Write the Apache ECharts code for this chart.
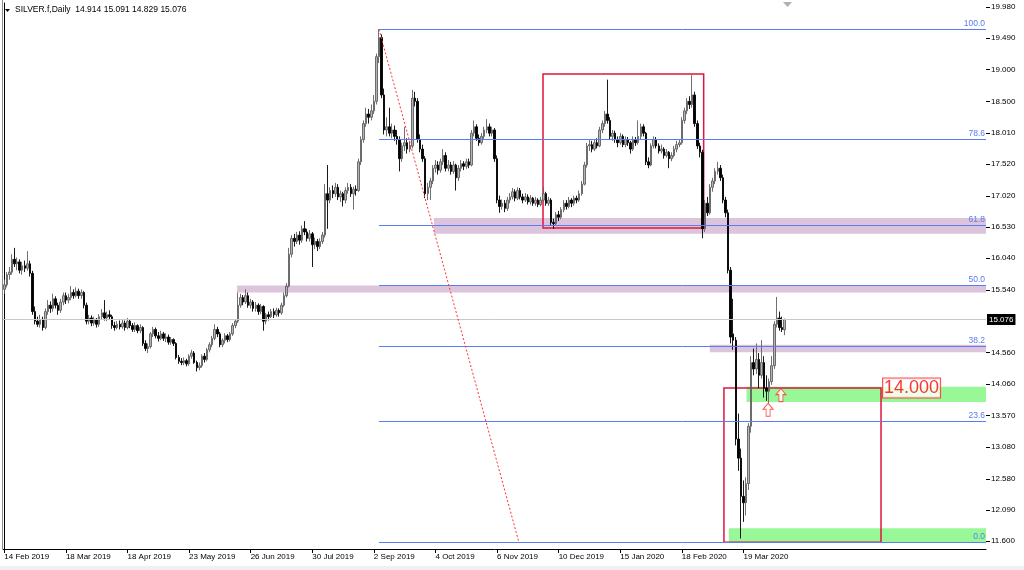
<!DOCTYPE html>
<html><head><meta charset="utf-8">
<script src="https://cdn.jsdelivr.net/npm/echarts@6/dist/echarts.min.js"></script>
<style>html,body{margin:0;padding:0;background:#fff}#c{width:1024px;height:570px}</style>
</head><body><div id="c"></div>
<script>
const opens = [
15.55,15.62,15.78,15.82,16.02,15.95,15.98,15.85,15.92,15.88,
15.95,15.80,15.20,15.05,15.00,15.08,14.95,15.20,15.30,15.25,
15.40,15.30,15.22,15.35,15.45,15.38,15.42,15.50,15.45,15.52,
15.45,15.50,15.30,15.05,15.10,15.02,15.08,15.00,15.12,15.18,
15.10,15.15,15.12,14.98,14.95,15.00,14.96,15.02,14.95,15.05,
14.98,14.92,14.98,14.90,14.95,14.70,14.62,14.65,14.85,14.92,
14.82,14.78,14.85,14.78,14.80,14.72,14.76,14.70,14.48,14.42,
14.40,14.43,14.38,14.50,14.55,14.40,14.32,14.35,14.50,14.45,
14.60,14.68,14.78,14.92,14.85,14.68,14.75,14.82,14.76,14.85,
14.98,15.05,15.30,15.42,15.35,15.45,15.30,15.35,15.25,15.30,
15.20,15.28,15.05,15.15,15.12,15.20,15.15,15.22,15.18,15.30,
15.45,15.60,16.10,16.35,16.30,16.40,16.32,16.50,16.45,16.35,
16.42,16.25,16.30,16.22,16.30,16.40,17.05,16.95,17.10,17.05,
17.15,17.00,17.05,16.95,17.10,17.15,17.05,17.12,17.10,17.55,
17.90,18.15,18.30,18.25,18.35,18.50,19.20,19.50,18.60,18.05,
18.10,18.00,18.05,17.95,17.90,17.60,17.80,17.85,17.75,17.80,
18.55,18.50,17.90,17.75,17.60,17.05,17.15,17.25,17.45,17.50,
17.42,17.55,17.65,17.45,17.50,17.40,17.50,17.30,17.45,17.52,
17.48,17.55,17.50,18.00,18.10,17.92,17.85,17.95,18.05,18.10,
18.00,18.05,17.60,16.95,16.85,16.90,16.82,16.95,17.00,17.08,
16.98,17.10,17.00,16.95,17.00,16.92,16.98,16.90,16.95,16.88,
16.95,17.05,16.90,16.95,16.60,16.58,16.72,16.68,16.80,16.90,
16.85,16.95,16.90,16.98,16.95,17.05,17.20,17.50,17.80,17.82,
17.75,17.85,17.80,18.05,18.15,18.30,18.20,17.95,18.00,17.90,
17.85,17.95,17.82,17.90,17.85,17.75,17.90,17.85,17.95,18.10,
18.00,17.55,17.50,17.80,17.90,17.80,17.72,17.75,17.65,17.70,
17.60,17.65,17.75,17.82,17.85,18.20,18.35,18.50,18.45,18.60,
18.15,17.80,17.70,16.50,16.90,16.75,17.15,17.25,17.40,17.45,
17.30,16.95,16.75,15.85,14.85,14.75,13.20,12.90,12.30,12.20,
12.50,13.40,14.40,14.30,14.45,14.20,14.40,14.00,13.95,14.10,
14.35,15.00,15.10,14.95,14.914];
const closes = [
15.62,15.78,15.82,16.02,15.95,15.98,15.85,15.92,15.88,15.95,
15.80,15.20,15.05,15.00,15.08,14.95,15.20,15.30,15.25,15.40,
15.30,15.22,15.35,15.45,15.38,15.42,15.50,15.45,15.52,15.45,
15.50,15.30,15.05,15.10,15.02,15.08,15.00,15.12,15.18,15.10,
15.15,15.12,14.98,14.95,15.00,14.96,15.02,14.95,15.05,14.98,
14.92,14.98,14.90,14.95,14.70,14.62,14.65,14.85,14.92,14.82,
14.78,14.85,14.78,14.80,14.72,14.76,14.70,14.48,14.42,14.40,
14.43,14.38,14.50,14.55,14.40,14.32,14.35,14.50,14.45,14.60,
14.68,14.78,14.92,14.85,14.68,14.75,14.82,14.76,14.85,14.98,
15.05,15.30,15.42,15.35,15.45,15.30,15.35,15.25,15.30,15.20,
15.28,15.05,15.15,15.12,15.20,15.15,15.22,15.18,15.30,15.45,
15.60,16.10,16.35,16.30,16.40,16.32,16.50,16.45,16.35,16.42,
16.25,16.30,16.22,16.30,16.40,17.05,16.95,17.10,17.05,17.15,
17.00,17.05,16.95,17.10,17.15,17.05,17.12,17.10,17.55,17.90,
18.15,18.30,18.25,18.35,18.50,19.20,19.50,18.60,18.05,18.10,
18.00,18.05,17.95,17.90,17.60,17.80,17.85,17.75,17.80,18.55,
18.50,17.90,17.75,17.60,17.05,17.15,17.25,17.45,17.50,17.42,
17.55,17.65,17.45,17.50,17.40,17.50,17.30,17.45,17.52,17.48,
17.55,17.50,18.00,18.10,17.92,17.85,17.95,18.05,18.10,18.00,
18.05,17.60,16.95,16.85,16.90,16.82,16.95,17.00,17.08,16.98,
17.10,17.00,16.95,17.00,16.92,16.98,16.90,16.95,16.88,16.95,
17.05,16.90,16.95,16.60,16.58,16.72,16.68,16.80,16.90,16.85,
16.95,16.90,16.98,16.95,17.05,17.20,17.50,17.80,17.82,17.75,
17.85,17.80,18.05,18.15,18.30,18.20,17.95,18.00,17.90,17.85,
17.95,17.82,17.90,17.85,17.75,17.90,17.85,17.95,18.10,18.00,
17.55,17.50,17.80,17.90,17.80,17.72,17.75,17.65,17.70,17.60,
17.65,17.75,17.82,17.85,18.20,18.35,18.50,18.45,18.60,18.15,
17.80,17.70,16.50,16.90,16.75,17.15,17.25,17.40,17.45,17.30,
16.95,16.75,15.85,14.80,14.75,13.20,12.90,12.30,12.20,12.50,
13.40,14.40,14.30,14.45,14.20,14.40,14.00,13.95,14.10,14.35,
15.00,15.10,14.95,14.92,15.076];
const highs = [
15.70,15.82,15.90,16.10,16.20,16.05,16.02,15.98,16.00,16.15,
16.00,15.84,15.28,15.12,15.15,15.12,15.25,15.38,15.36,15.48,
15.44,15.34,15.40,15.50,15.50,15.48,15.60,15.55,15.58,15.56,
15.55,15.52,15.34,15.15,15.14,15.12,15.10,15.16,15.24,15.38,
15.20,15.22,15.15,15.04,15.05,15.06,15.07,15.06,15.10,15.08,
15.02,15.03,15.00,15.00,14.97,14.75,14.70,14.88,14.96,14.95,
14.88,14.90,14.88,14.86,14.84,14.80,14.78,14.72,14.52,14.47,
14.48,14.46,14.53,14.60,14.58,14.43,14.40,14.53,14.55,14.63,
14.72,14.82,15.00,14.96,14.88,14.78,14.86,14.85,14.88,15.02,
15.08,15.50,15.48,15.46,15.55,15.50,15.40,15.38,15.35,15.33,
15.32,15.30,15.18,15.20,15.24,15.25,15.26,15.25,15.34,15.50,
15.65,16.20,16.40,16.42,16.45,16.46,16.55,16.62,16.50,16.48,
16.45,16.36,16.34,16.35,16.45,17.20,17.50,17.15,17.18,17.22,
17.20,17.10,17.08,17.15,17.22,17.20,17.16,17.18,17.60,17.95,
18.20,18.40,18.38,18.45,18.60,19.25,19.63,19.55,18.70,18.25,
18.40,18.15,18.12,18.05,17.95,17.85,18.10,17.92,17.88,18.68,
18.65,18.55,17.98,17.82,17.64,17.22,17.30,17.50,17.58,17.56,
17.60,17.75,17.70,17.58,17.55,17.56,17.52,17.50,17.58,17.56,
17.60,17.60,18.05,18.20,18.14,17.98,18.00,18.10,18.22,18.15,
18.10,18.08,17.65,17.02,16.96,16.95,17.00,17.06,17.14,17.12,
17.15,17.14,17.05,17.06,17.04,17.03,17.00,17.00,16.98,17.00,
17.15,17.08,17.00,16.98,16.66,16.76,16.78,16.84,16.95,16.95,
17.00,16.98,17.02,17.02,17.10,17.25,17.55,17.85,17.90,17.88,
17.90,17.92,18.10,18.20,18.35,18.84,18.25,18.05,18.04,17.95,
18.00,17.98,17.95,17.94,17.88,17.95,17.94,18.20,18.15,18.14,
18.02,17.62,17.84,17.95,17.94,17.84,17.82,17.78,17.75,17.72,
17.70,17.80,17.88,17.90,18.25,18.40,18.55,18.58,18.91,18.65,
18.20,17.85,17.74,16.95,17.00,17.20,17.30,17.45,17.55,17.50,
17.35,17.00,16.80,15.90,15.40,14.80,13.60,13.05,12.55,12.60,
13.45,14.50,14.62,14.70,14.55,14.75,14.50,14.20,14.15,14.50,
15.05,15.43,15.20,15.12,15.091];
const lows = [
15.48,15.58,15.70,15.78,15.90,15.85,15.80,15.78,15.82,15.84,
15.75,15.15,15.00,14.96,14.95,14.90,14.92,15.15,15.18,15.20,
15.25,15.15,15.18,15.30,15.32,15.33,15.38,15.40,15.42,15.40,
15.40,15.25,15.00,15.00,14.97,14.98,14.95,14.96,15.08,15.06,
15.05,15.08,14.93,14.90,14.92,14.92,14.93,14.90,14.92,14.94,
14.88,14.88,14.86,14.86,14.66,14.58,14.55,14.62,14.80,14.78,
14.73,14.75,14.74,14.72,14.68,14.68,14.66,14.45,14.38,14.36,
14.36,14.34,14.35,14.46,14.38,14.26,14.28,14.32,14.40,14.42,
14.56,14.64,14.75,14.80,14.64,14.64,14.70,14.72,14.73,14.82,
14.94,15.02,15.26,15.30,15.32,15.26,15.25,15.20,15.20,15.15,
15.16,14.90,15.00,15.06,15.10,15.10,15.12,15.12,15.15,15.27,
15.42,15.58,16.05,16.22,16.26,16.25,16.28,16.40,16.30,16.30,
15.90,16.18,16.15,16.18,16.26,16.36,16.50,16.90,16.98,17.00,
16.95,16.92,16.85,16.90,17.05,17.00,16.80,17.02,17.08,17.50,
17.85,18.10,18.15,18.20,18.30,18.45,19.10,18.55,17.98,17.95,
17.95,17.92,17.88,17.82,17.40,17.55,17.72,17.68,17.70,17.76,
18.42,17.85,17.70,17.55,16.98,16.95,16.95,17.20,17.38,17.35,
17.38,17.50,17.40,17.40,17.35,17.36,17.10,17.25,17.40,17.42,
17.44,17.45,17.48,17.95,17.88,17.80,17.82,17.90,18.00,17.95,
17.95,17.55,16.90,16.75,16.80,16.76,16.78,16.90,16.96,16.93,
16.95,16.96,16.90,16.92,16.88,16.88,16.86,16.86,16.84,16.85,
16.92,16.86,16.86,16.56,16.50,16.55,16.62,16.65,16.76,16.80,
16.82,16.84,16.86,16.90,16.92,17.02,17.18,17.46,17.72,17.70,
17.72,17.76,17.78,18.00,18.10,18.15,17.90,17.88,17.85,17.78,
17.82,17.78,17.78,17.80,17.68,17.72,17.80,17.82,17.90,17.95,
17.50,17.45,17.48,17.76,17.76,17.68,17.68,17.60,17.62,17.45,
17.56,17.62,17.70,17.78,17.82,18.15,18.30,18.38,18.40,18.10,
17.75,17.62,16.35,16.45,16.70,16.72,17.08,17.20,17.35,17.25,
16.90,16.68,15.80,14.70,14.60,13.10,12.70,11.64,11.90,12.00,
12.40,13.30,14.20,14.22,14.00,14.15,13.85,13.80,13.76,14.05,
14.30,14.95,14.90,14.88,14.829];

const symbolName = 'SILVER.f,Daily';
const tickLabels = ['14 Feb 2019','18 Mar 2019','18 Apr 2019','23 May 2019','26 Jun 2019','30 Jul 2019','2 Sep 2019','4 Oct 2019','6 Nov 2019','10 Dec 2019','15 Jan 2020','18 Feb 2020','19 Mar 2020'];
const barsPerTick = 24;
const totalSlots = 383;
const priceTicks = [19.98,19.49,19.00,18.50,18.01,17.52,17.02,16.53,16.04,15.54,14.56,14.06,13.57,13.08,12.58,12.09,11.60];
const priceMin = 11.474, priceMax = 20.043;

const fibHigh = 19.63, fibLow = 11.58, fibHighBar = 146, fibTrendEndBar = 200.5;
const fibRatios = [0, 23.6, 38.2, 50, 61.8, 78.6, 100];
const lastPrice = closes[closes.length - 1];

// zones: [startBar, topPrice, bottomPrice] (extend to right edge)
const purpleZones = [[167.4, 16.67, 16.42], [90.7, 15.61, 15.50], [274.9, 14.68, 14.56]];
const greenZones = [[289.2, 14.02, 13.78], [282.3, 11.80, 11.58]];
// red boxes: [startBar, endBar, topPrice, bottomPrice]
const redBoxes = [[209.9, 272.5, 18.93, 16.51], [280.4, 341.6, 14.00, 11.58]];
const levelLabel = {bar: 353.5, price: 14.0, text: '14.000'};
const arrowMarks = [[302.6, 13.89], [297.6, 13.66]];

const FONT = '"Liberation Sans", Arial, sans-serif';
const fibColor = '#5a7cf0';
const rightEdge = totalSlots - 0.5;

const chart = echarts.init(document.getElementById('c'), null, {renderer: 'canvas'});
const slots = Array.from({length: totalSlots}, (_, i) => String(i));
const candleData = opens.map((o, i) => [o, closes[i], lows[i], highs[i]]);
const showTick = (idx) => idx % barsPerTick === 0 && idx / barsPerTick < tickLabels.length;

const last = opens.length - 1;
const titleText = symbolName + '  ' + opens[last].toFixed(3) + ' ' + highs[last].toFixed(3) + ' ' + lows[last].toFixed(3) + ' ' + closes[last].toFixed(3);

const baseGraphics = [
  {type: 'rect', shape: {x: 0, y: 566, width: 1024, height: 4}, style: {fill: '#f0f0f0'}, silent: true},
  {type: 'line', shape: {x1: 2.5, y1: 0, x2: 2.5, y2: 549}, style: {stroke: '#8c8c8c', lineWidth: 1}, silent: true},
  {type: 'polygon', shape: {points: [[5, 9], [10, 9], [7.5, 12]]}, style: {fill: '#000'}, silent: true},
  {type: 'polygon', shape: {points: [[783, 2], [792, 2], [787.5, 7]]}, style: {fill: '#b0b0b0'}, silent: true},
  {type: 'text', left: 15, top: 5, style: {text: titleText, fill: '#000', fontSize: 8.5, fontFamily: FONT}, silent: true}
];

function buildOption(snap) {
  return {
    animation: false,
    backgroundColor: '#ffffff',
    grid: {left: 3, right: 38, top: 3, bottom: 21},
    xAxis: [{
      type: 'category', data: slots, boundaryGap: true,
      axisLine: {show: true, lineStyle: {color: '#000', width: 1}},
      axisTick: {show: true, alignWithLabel: true, interval: showTick, length: 4, lineStyle: {color: '#000'}},
      axisLabel: {show: true, interval: showTick, align: 'left', margin: 4, fontSize: 8, fontFamily: FONT, color: '#000',
        formatter: (v, idx) => tickLabels[idx / barsPerTick] || ''},
      splitLine: {show: false}
    }, {
      type: 'value', min: -0.5, max: rightEdge, show: false
    }],
    yAxis: {
      type: 'value', position: 'right', min: priceMin, max: priceMax, scale: true,
      axisLine: {show: true, lineStyle: {color: '#000', width: 1}},
      axisTick: {show: false},
      axisLabel: {show: true, customValues: priceTicks, margin: 5, fontSize: 8, fontFamily: FONT, color: '#000',
        formatter: (v) => v.toFixed(3)},
      splitLine: {show: false}
    },
    series: [
      {
        type: 'line', xAxisIndex: 1, data: [[fibHighBar, fibHigh]], showSymbol: false, symbol: 'none', z: 1,
        lineStyle: {opacity: 0}, silent: true,
        markArea: {
          silent: true,
          data: [
            ...purpleZones.map(z => [{coord: [z[0], z[1]], itemStyle: {color: '#dcc4dc'}}, {coord: [rightEdge, z[2]]}]),
            ...greenZones.map(z => [{coord: [z[0], z[1]], itemStyle: {color: '#98f898'}}, {coord: [rightEdge, z[2]]}])
          ]
        },
        markLine: {
          silent: true, symbol: 'none', animation: false,
          data: [[
            {coord: [-0.5, snap(lastPrice)], lineStyle: {color: '#c8c8c8', width: 1, type: 'solid'},
             label: {show: true, position: 'end', distance: 1, formatter: lastPrice.toFixed(3), backgroundColor: '#000', color: '#fff',
               fontSize: 8, fontFamily: FONT, padding: [2, 2, 1, 2]}},
            {coord: [rightEdge, snap(lastPrice)]}
          ]]
        }
      },
      {
        type: 'candlestick', xAxisIndex: 0, yAxisIndex: 0, data: candleData, barWidth: 2, z: 2,
        itemStyle: {color: '#b4b4b4', color0: '#000000', borderColor: '#606060', borderColor0: '#000000', borderWidth: 0.9}
      },
      {
        type: 'line', xAxisIndex: 1, data: [[fibHighBar, fibHigh]], showSymbol: false, symbol: 'none', z: 3,
        lineStyle: {opacity: 0}, silent: true,
        markLine: {
          silent: true, symbol: 'none', animation: false,
          data: [
            ...fibRatios.map(r => {
              const p = snap(fibLow + (fibHigh - fibLow) * r / 100);
              return [
                {coord: [fibHighBar, p], lineStyle: {color: fibColor, width: 1, type: 'solid'},
                 label: {show: true, position: 'insideEndTop', distance: 1, formatter: r.toFixed(1), color: fibColor, fontSize: 8.5, fontFamily: FONT}},
                {coord: [rightEdge, p]}
              ];
            }),
            [
              {coord: [fibHighBar, fibHigh], lineStyle: {color: '#ff3030', width: 1, type: [2, 2]}, label: {show: false}},
              {coord: [fibTrendEndBar, fibLow]}
            ]
          ]
        },
        markArea: {
          silent: true,
          data: redBoxes.map(b => [{coord: [b[0], b[2]], itemStyle: {color: 'rgba(0,0,0,0)', borderColor: '#e0143c', borderWidth: 1.5}}, {coord: [b[1], b[3]]}])
        }
      },
      {
        type: 'scatter', xAxisIndex: 1, z: 5, silent: true,
        data: arrowMarks,
        symbol: 'path://M5,0 L10,6 L7,6 L7,13 L3,13 L3,6 L0,6 Z',
        symbolSize: [10, 13],
        itemStyle: {color: '#ffffff', borderColor: '#ff3030', borderWidth: 1}
      },
      {
        type: 'scatter', xAxisIndex: 1, z: 6, silent: true,
        data: [[levelLabel.bar, levelLabel.price]],
        symbolSize: 1, itemStyle: {color: 'rgba(0,0,0,0)'},
        label: {show: true, position: 'inside', formatter: levelLabel.text, color: '#ff0000', fontSize: 18, fontFamily: FONT,
          backgroundColor: '#ffffff', borderColor: '#ff2020', borderWidth: 1, padding: [1, 1, 0, 1]}
      }
    ],
    graphic: baseGraphics
  };
}

chart.setOption(buildOption(v => v));

// snap horizontal level lines to the pixel grid of the library's y scale (crisp 1px lines like the terminal)
const snapLevel = (v) => {
  const y = chart.convertToPixel({yAxisIndex: 0}, v);
  return chart.convertFromPixel({yAxisIndex: 0}, Math.round(y - 0.5) + 0.5);
};
chart.setOption(buildOption(snapLevel), {notMerge: true});

// right price-scale tick marks, placed through the y scale
const rightX = chart.convertToPixel({xAxisIndex: 1}, rightEdge);
const tickGraphics = priceTicks.map(v => {
  const y = Math.round(chart.convertToPixel({yAxisIndex: 0}, v)) + 0.5;
  return {type: 'line', shape: {x1: rightX, y1: y, x2: rightX + 4, y2: y}, style: {stroke: '#000', lineWidth: 1}, silent: true};
});
chart.setOption({graphic: baseGraphics.concat(tickGraphics)}, {replaceMerge: ['graphic']});
</script>
</body></html>
